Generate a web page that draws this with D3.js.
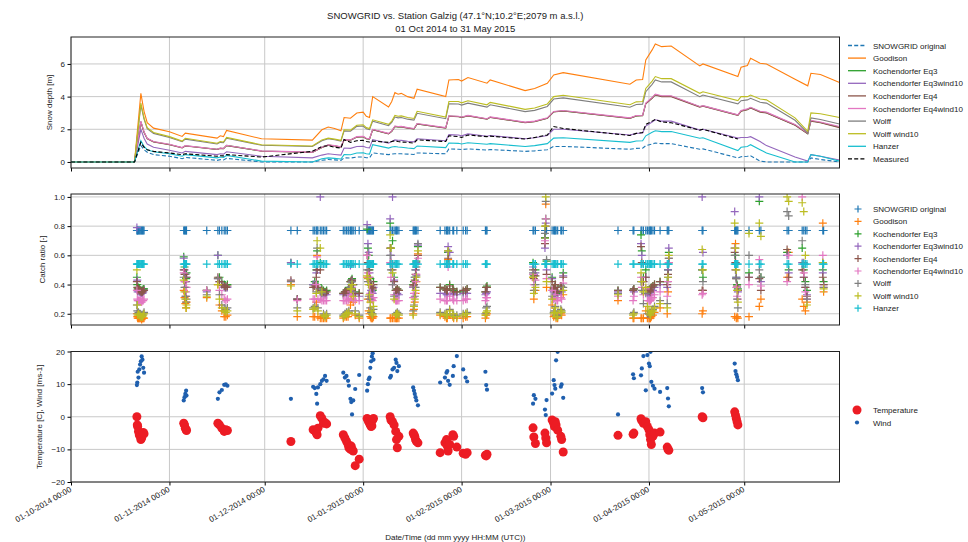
<!DOCTYPE html>
<html>
<head>
<meta charset="utf-8">
<script src="https://cdn.jsdelivr.net/npm/d3@7"></script>
<style>
  body { margin: 0; background: #fff; }
  text { font-family: "Liberation Sans", Arial, sans-serif; fill: #222; }
</style>
</head>
<body>
<svg id="chart" width="968" height="542"></svg>
<script>
// ---------- snow depth (top panel) ----------
const depthDates = ["2014-10-01","2014-10-21","2014-10-23","2014-10-24","2014-10-25","2014-10-27","2014-11-01","2014-11-05","2014-11-06","2014-11-16","2014-11-17","2014-11-18","2014-11-19","2014-11-30","2014-12-16","2014-12-19","2014-12-21","2014-12-23","2014-12-25","2014-12-26","2014-12-28","2014-12-30","2015-01-01","2015-01-02","2015-01-03","2015-01-04","2015-01-09","2015-01-10","2015-01-11","2015-01-12","2015-01-13","2015-01-15","2015-01-17","2015-01-18","2015-01-27","2015-01-28","2015-01-31","2015-02-01","2015-02-03","2015-02-09","2015-02-10","2015-02-21","2015-02-24","2015-02-28","2015-03-02","2015-03-05","2015-03-26","2015-03-28","2015-03-30","2015-03-31","2015-04-02","2015-04-03","2015-04-05","2015-04-08","2015-04-17","2015-04-18","2015-04-29","2015-04-30","2015-05-02","2015-05-03","2015-05-06","2015-05-08","2015-05-17","2015-05-21","2015-05-22","2015-05-25","2015-05-31"];

const sdSnowgrid = [0,0,1.0,0.75,0.6,0.45,0.35,0.2,0.28,0.1,0.14,0.12,0.22,0.0,0.0,0.1,0.15,0.13,0.1,0.25,0.24,0.3,0.3,0.26,0.25,0.55,0.45,0.48,0.5,0.5,0.5,0.48,0.46,0.55,0.5,0.8,0.78,0.76,0.8,0.73,0.76,0.65,0.68,0.75,0.95,0.95,0.78,0.83,0.84,1.0,1.1,1.16,1.12,1.12,0.78,0.8,0.25,0.32,0.35,0.38,0.05,0.0,0.0,0.0,0.25,0.15,0.0];
const sdGoodison = [0,0,4.2,3.1,2.4,2.07,1.85,1.56,1.76,1.46,1.6,1.55,1.93,1.42,1.34,1.97,2.14,2.05,1.91,2.72,2.68,3.0,3.05,2.79,2.72,4.0,3.36,3.7,4.25,4.15,4.2,4.0,3.9,4.45,4.0,5.02,5.05,4.95,5.17,4.82,5.02,4.37,4.5,4.82,5.33,5.47,4.76,5.02,5.05,6.24,6.86,7.22,7.06,7.1,5.88,6.0,5.23,5.8,5.9,6.35,6.04,6.0,5.07,4.66,5.43,5.35,4.86];
const sdKoch3 = [0,0,2.47,1.82,1.44,1.24,1.07,0.87,0.99,0.77,0.84,0.82,1.01,0.67,0.59,0.89,1.04,0.99,0.92,1.36,1.34,1.53,1.55,1.43,1.4,1.98,1.73,1.88,2.18,2.15,2.16,2.08,2.03,2.33,2.08,2.81,2.78,2.73,2.83,2.63,2.74,2.42,2.48,2.68,3.07,3.13,2.68,2.82,2.84,3.58,3.92,4.12,4.02,4.02,3.38,3.43,2.87,3.12,3.22,3.32,3.07,3.02,2.27,1.74,2.52,2.42,2.13];
const sdKoch3w = [0,0,2.0,1.45,1.1,0.9,0.72,0.55,0.65,0.45,0.5,0.48,0.62,0.35,0.25,0.42,0.5,0.46,0.42,0.85,0.83,0.95,0.96,0.88,0.86,1.37,1.15,1.25,1.35,1.33,1.32,1.27,1.23,1.42,1.3,1.67,1.65,1.6,1.72,1.57,1.62,1.42,1.48,1.62,2.0,2.0,1.65,1.75,1.77,2.2,2.45,2.58,2.5,2.5,1.95,2.0,1.46,1.5,1.5,1.55,1.25,1.0,0.3,0.05,0.45,0.35,0.12];
const sdKoch4 = [0,0,2.45,1.8,1.42,1.22,1.05,0.86,0.98,0.76,0.83,0.81,1.0,0.66,0.58,0.88,1.03,0.98,0.91,1.35,1.33,1.52,1.54,1.42,1.39,1.97,1.72,1.87,2.17,2.14,2.15,2.07,2.02,2.32,2.07,2.8,2.77,2.72,2.82,2.62,2.73,2.41,2.47,2.67,3.06,3.12,2.67,2.81,2.83,3.56,3.9,4.1,4.0,4.0,3.36,3.41,2.85,3.1,3.2,3.3,3.05,3.0,2.25,1.72,2.5,2.4,2.1];
const sdKoch4w = [0,0,2.5,1.85,1.45,1.25,1.08,0.88,1.0,0.78,0.85,0.83,1.02,0.68,0.6,0.9,1.05,1.0,0.93,1.37,1.35,1.55,1.57,1.45,1.42,2.0,1.75,1.9,2.2,2.17,2.18,2.1,2.05,2.35,2.1,2.83,2.8,2.75,2.85,2.65,2.76,2.44,2.5,2.7,3.09,3.15,2.7,2.84,2.86,3.6,3.95,4.15,4.05,4.05,3.4,3.45,2.89,3.15,3.25,3.35,3.1,3.05,2.3,1.77,2.55,2.45,2.17];
const sdWolff = [0,0,3.5,2.62,2.04,1.75,1.5,1.24,1.4,1.1,1.2,1.18,1.45,1.02,0.95,1.3,1.42,1.36,1.28,1.9,1.88,2.18,2.2,2.03,1.98,2.5,2.22,2.42,2.75,2.7,2.72,2.62,2.56,2.98,2.65,3.56,3.55,3.48,3.6,3.36,3.5,3.08,3.16,3.4,3.85,3.92,3.35,3.52,3.54,4.3,4.75,5.02,4.9,4.9,4.0,4.1,3.56,3.75,3.8,3.9,3.65,3.6,2.55,1.77,2.7,2.6,2.32];
const sdWolffWind = [0,0,3.6,2.7,2.1,1.8,1.55,1.28,1.45,1.15,1.25,1.22,1.5,1.05,0.98,1.35,1.46,1.4,1.32,1.97,1.95,2.25,2.28,2.1,2.05,2.58,2.3,2.5,2.85,2.8,2.82,2.72,2.66,3.1,2.75,3.7,3.7,3.62,3.75,3.5,3.65,3.22,3.3,3.55,4.0,4.08,3.5,3.68,3.7,4.5,4.95,5.23,5.1,5.1,4.2,4.3,3.76,4.0,4.0,4.1,3.85,3.8,2.7,1.87,3.0,2.95,2.72];
const sdHanzer = [0,0,1.3,0.95,0.75,0.62,0.5,0.35,0.45,0.25,0.3,0.28,0.4,0.05,0.0,0.2,0.25,0.22,0.18,0.45,0.44,0.55,0.56,0.5,0.48,1.06,0.85,0.92,0.95,0.92,0.9,0.85,0.82,0.98,0.88,1.16,1.14,1.1,1.18,1.08,1.12,0.95,1.0,1.12,1.46,1.48,1.2,1.28,1.3,1.6,1.82,1.91,1.86,1.86,1.45,1.48,0.7,0.9,0.95,1.06,0.75,0.55,0.0,0.0,0.45,0.35,0.05];
const sdMeasured = [0,0,1.2,0.9,0.75,0.65,0.55,0.45,0.5,0.35,0.38,0.37,0.45,0.3,0.65,0.95,1.0,0.9,0.85,1.37,1.2,1.3,1.32,1.25,1.22,1.28,1.2,1.25,1.3,1.25,1.22,1.2,1.15,1.35,1.25,1.6,1.55,1.5,1.65,1.55,1.58,1.4,1.5,1.65,2.17,2.05,1.62,1.75,1.8,2.3,2.5,2.6,2.45,2.4,1.95,2.0,1.4,null,null,null,null,null,null,null,null,null,null];

// ---------- precipitation events (middle + bottom panels) ----------
const eventTimes = [
  "2014-10-21 18","2014-10-21 21","2014-10-22 00","2014-10-22 06","2014-10-22 12","2014-10-22 18","2014-10-23 00","2014-10-23 06","2014-10-23 12","2014-10-23 18","2014-10-24 00",
  "2014-11-05 12","2014-11-05 18","2014-11-06 00","2014-11-06 06","2014-11-06 09",
  "2014-11-12 18","2014-11-16 06","2014-11-16 18","2014-11-17 12","2014-11-18 06","2014-11-18 18","2014-11-19 06",
  "2014-12-09 06","2014-12-11 06",
  "2014-12-16 06","2014-12-16 18","2014-12-17 06","2014-12-17 12","2014-12-17 18","2014-12-18 12","2014-12-19 00","2014-12-19 12","2014-12-20 00","2014-12-20 12",
  "2014-12-25 18","2014-12-26 06","2014-12-26 18","2014-12-27 06","2014-12-27 12","2014-12-28 00","2014-12-28 06","2014-12-28 12","2014-12-28 21","2014-12-29 12","2014-12-30 18",
  "2015-01-02 06","2015-01-02 12","2015-01-02 18","2015-01-03 00","2015-01-03 06","2015-01-03 12","2015-01-03 18","2015-01-04 00","2015-01-04 06",
  "2015-01-09 12","2015-01-09 18","2015-01-10 06","2015-01-10 18","2015-01-11 06","2015-01-11 12","2015-01-11 18","2015-01-12 06",
  "2015-01-16 18","2015-01-17 00","2015-01-17 06","2015-01-17 12","2015-01-17 18","2015-01-18 06",
  "2015-01-25 06","2015-01-26 18","2015-01-27 06","2015-01-27 12","2015-01-27 18","2015-01-28 06","2015-01-29 06","2015-01-29 12","2015-01-30 12","2015-02-01 12","2015-02-02 06","2015-02-02 18",
  "2015-02-08 12","2015-02-08 18","2015-02-09 00",
  "2015-02-23 12","2015-02-23 18","2015-02-24 06","2015-02-27 06","2015-02-27 12","2015-02-27 18","2015-03-01 12","2015-03-02 00","2015-03-02 06","2015-03-02 12","2015-03-02 18","2015-03-03 06","2015-03-04 06","2015-03-04 12","2015-03-05 00",
  "2015-03-22 06",
  "2015-03-27 00","2015-03-27 06","2015-03-29 12","2015-03-29 18","2015-03-30 06","2015-03-31 00","2015-03-31 12","2015-04-01 00","2015-04-01 06","2015-04-01 12","2015-04-01 18","2015-04-02 06","2015-04-02 18","2015-04-04 12","2015-04-06 18","2015-04-07 00","2015-04-07 06",
  "2015-04-17 18","2015-04-18 00",
  "2015-04-28 00","2015-04-28 06","2015-04-28 12","2015-04-28 18","2015-04-29 00","2015-05-02 12",
  "2015-05-05 18","2015-05-06 06",
  "2015-05-14 12","2015-05-15 00","2015-05-19 06","2015-05-19 18","2015-05-20 06","2015-05-20 18",
  "2015-05-25 18","2015-05-26 00"
];

const temperature = [
  0.0,-2.5,-3.0,-4.5,-5.5,-6.0,-7.0,-6.5,-5.5,-4.8,-5.2,
  -2.0,-2.5,-3.5,-4.0,-4.2,
  null,-2.0,-2.5,-3.5,-4.5,-4.0,-4.2,
  -7.6,null,
  -4.0,-4.3,-5.0,-5.5,-3.5,0.3,-0.5,-2.0,-1.8,-2.2,
  -5.5,-6.5,-7.5,-8.5,-9.5,-10.0,-9.0,-10.0,-10.5,-15.0,-13.0,
  -0.5,-1.0,-1.5,-2.0,-2.5,-3.0,-2.8,-1.0,-0.5,
  0.0,-1.0,-1.5,-2.5,-4.5,-7.0,-9.5,-6.0,
  -5.0,-5.5,-6.0,-7.0,-7.5,-8.0,
  -11.0,-8.0,-7.0,-9.0,-10.5,-8.5,-5.5,-6.0,-9.3,-11.2,-11.5,-11.0,
  -11.8,-12.0,-11.5,
  -3.4,-6.2,-8.2,-5.0,-6.5,-8.0,-1.0,-2.0,-3.0,-1.5,-2.5,-4.1,-6.0,-7.0,-10.8,
  -5.7,
  -5.4,-5.0,-0.6,-1.2,-2.0,-1.5,-3.0,-4.0,-5.5,-7.0,-8.5,-6.0,-5.0,-4.7,-9.3,-10.0,-10.3,
  0.0,-0.3,
  1.5,0.5,-0.5,-1.5,-2.5,null,
  null,null,
  null,null,null,null,null,null,
  null,null
];

const wind = [
  9.7,10.5,13.8,12.0,14.5,16.0,17.0,18.5,17.5,15.0,13.5,
  5.0,6.0,7.0,8.0,6.5,
  null,5.5,7.5,8.2,9.8,9.9,9.5,
  5.5,null,
  9.2,8.8,7.0,4.0,9.0,10.0,11.0,11.5,12.5,11.0,
  13.5,12.0,12.5,11.0,9.5,5.5,4.5,0.7,5.0,8.5,12.8,
  8.0,10.0,11.5,12.0,15.0,17.0,18.5,19.5,17.5,
  12.0,12.5,14.5,15.0,17.5,16.5,14.0,15.5,
  9.0,8.0,7.0,6.0,5.0,3.5,
  10.5,12.0,13.5,14.0,11.0,9.8,12.5,15.5,18.6,14.5,12.0,10.8,
  13.8,9.7,8.3,
  4.0,6.6,5.5,2.2,0.5,5.1,7.1,11.2,9.7,8.6,17.3,19.9,9.2,9.9,5.8,
  0.7,
  13.0,11.8,12.7,14.8,18.6,8.1,18.9,16.3,15.5,19.9,10.7,9.5,8.6,7.6,8.8,5.6,3.2,
  8.8,7.5,
  16.3,14.0,13.0,12.2,11.2,null,
  null,null,
  null,null,null,null,null,null,
  null,null
];

const crSnowgrid = [
  0.77,0.77,0.77,0.77,0.77,0.77,0.77,0.77,0.77,0.77,0.77,
  0.77,0.77,0.77,0.77,0.77,
  0.77,0.77,0.77,0.77,0.77,0.77,0.77,
  0.77,0.77,
  0.77,0.77,0.77,0.77,0.77,0.77,0.77,0.77,0.77,0.77,
  0.77,0.77,0.77,0.77,0.77,0.77,0.77,0.77,0.77,0.77,0.77,
  0.77,0.77,0.77,0.77,0.77,0.77,0.77,0.77,0.77,
  0.77,0.77,0.77,0.77,0.77,0.77,0.77,0.77,
  0.77,0.77,0.77,0.77,0.77,0.77,
  0.77,0.77,0.77,0.77,0.77,0.77,0.77,0.77,0.77,0.77,0.77,0.77,
  0.77,0.77,0.77,
  0.77,0.77,0.77,0.77,0.77,0.77,0.77,0.77,0.77,0.77,0.77,0.77,0.77,0.77,0.77,
  0.77,
  0.77,0.77,0.77,0.77,0.77,0.77,0.77,0.77,0.77,0.77,0.77,0.77,0.77,0.77,0.77,0.77,0.77,
  0.77,0.77,
  0.77,0.77,0.77,0.77,0.77,0.77,
  0.77,0.77,
  0.77,0.77,0.77,0.77,0.77,0.77,
  0.77,0.77
];
const crGoodison = [
  0.20,0.18,0.17,0.17,0.17,0.17,0.17,0.16,0.17,0.17,0.17,
  0.36,0.31,0.27,0.24,0.28,
  0.31,0.40,0.26,0.22,0.18,0.18,0.19,
  0.40,0.18,
  0.18,0.18,0.28,0.60,0.18,0.17,0.17,0.17,0.17,0.17,
  0.17,0.18,0.18,0.18,0.20,0.26,0.30,0.36,0.28,0.19,0.17,
  0.45,0.30,0.22,0.20,0.18,0.17,0.17,0.17,0.18,
  0.17,0.17,0.17,0.17,0.17,0.17,0.17,0.17,
  0.20,0.23,0.28,0.34,0.42,0.61,
  0.19,0.18,0.17,0.17,0.57,0.20,0.18,0.17,0.17,0.17,0.18,0.18,
  0.17,0.19,0.20,
  0.45,0.30,0.36,0.72,0.95,0.38,0.26,0.18,0.19,0.21,0.17,0.17,0.20,0.19,0.33,
  0.29,
  0.17,0.17,0.17,0.17,0.17,0.22,0.17,0.17,0.17,0.17,0.18,0.19,0.21,0.24,0.20,0.35,0.55,
  0.20,0.22,
  0.18,0.68,0.17,0.18,0.17,0.18,
  0.25,0.30,
  0.45,0.62,0.30,0.25,0.22,0.28,
  0.82,0.35
];
const crKoch3 = [
  0.45,0.40,0.37,0.38,0.37,0.36,0.36,0.35,0.36,0.37,0.37,
  0.59,0.52,0.47,0.44,0.48,
  0.36,0.60,0.45,0.42,0.40,0.39,0.40,
  0.55,0.30,
  0.40,0.42,0.50,0.63,0.40,0.55,0.37,0.36,0.35,0.36,
  0.34,0.35,0.35,0.36,0.38,0.42,0.43,0.44,0.40,0.35,0.34,
  0.78,0.65,0.60,0.50,0.44,0.40,0.38,0.36,0.42,
  0.82,0.65,0.70,0.45,0.36,0.36,0.37,0.36,
  0.40,0.42,0.45,0.50,0.56,0.66,
  0.38,0.37,0.36,0.36,0.62,0.40,0.37,0.36,0.35,0.35,0.36,0.37,
  0.35,0.38,0.39,
  0.55,0.46,0.50,0.72,0.85,0.56,0.45,0.37,0.38,0.40,0.35,0.34,0.39,0.38,0.48,
  0.36,
  0.36,0.37,0.74,0.63,0.45,0.50,0.36,0.36,0.36,0.35,0.38,0.39,0.40,0.42,0.42,0.50,0.62,
  0.50,0.45,
  0.65,0.60,0.45,0.40,0.37,0.48,
  0.97,0.45,
  0.62,0.50,0.65,0.50,0.42,0.36,
  0.50,0.42
];
const crKoch3w = [
  0.79,0.43,0.35,0.36,0.35,0.35,0.34,0.34,0.34,0.35,0.36,
  0.58,0.50,0.47,0.42,0.45,
  0.35,0.60,0.42,0.40,0.38,0.38,0.38,
  0.55,0.30,
  0.40,0.40,0.48,0.50,0.38,1.00,0.34,0.33,0.33,0.33,
  0.33,0.34,0.34,0.33,0.35,0.53,0.42,0.43,0.34,0.33,0.32,
  0.81,0.68,0.62,0.48,0.40,0.36,0.35,0.34,0.38,
  0.85,0.60,1.00,0.43,0.33,0.33,0.34,0.33,
  0.38,0.40,0.45,0.50,0.55,0.67,
  0.34,0.34,0.33,0.33,0.66,0.62,0.34,0.33,0.33,0.34,0.34,0.34,
  0.33,0.34,0.35,
  0.52,0.47,0.48,0.65,0.82,0.50,0.44,0.35,0.36,0.38,0.33,0.33,0.36,0.35,0.46,
  0.35,
  0.36,0.35,0.68,0.60,0.42,0.45,0.34,0.33,0.33,0.33,0.35,0.36,0.38,0.40,0.38,0.50,0.65,
  1.00,0.62,
  0.90,0.55,0.45,0.38,0.35,0.45,
  1.00,0.42,
  0.60,0.48,0.55,0.45,0.38,0.33,
  0.48,0.40
];
const crKoch4 = [
  0.42,0.38,0.36,0.37,0.36,0.36,0.35,0.35,0.35,0.36,0.36,
  0.50,0.47,0.42,0.32,0.45,
  0.36,0.45,0.42,0.40,0.39,0.38,0.39,
  0.43,0.30,
  0.38,0.39,0.45,0.50,0.38,0.50,0.36,0.35,0.34,0.35,
  0.34,0.35,0.35,0.36,0.37,0.42,0.42,0.43,0.40,0.34,0.34,
  0.60,0.55,0.50,0.45,0.42,0.40,0.38,0.37,0.40,
  0.65,0.55,0.50,0.42,0.36,0.36,0.37,0.36,
  0.39,0.40,0.43,0.47,0.52,0.60,
  0.38,0.37,0.36,0.36,0.58,0.39,0.37,0.35,0.35,0.36,0.36,0.37,
  0.35,0.38,0.38,
  0.50,0.44,0.46,0.68,0.80,0.47,0.42,0.37,0.38,0.40,0.35,0.35,0.39,0.38,0.45,
  0.36,
  0.36,0.37,0.66,0.55,0.42,0.45,0.36,0.36,0.36,0.35,0.38,0.39,0.40,0.42,0.40,0.47,0.58,
  0.36,0.36,
  0.62,0.55,0.44,0.39,0.36,0.45,
  0.44,0.36,
  0.64,0.45,0.50,0.45,0.38,0.32,
  0.45,0.40
];
const crKoch4w = [
  0.36,0.30,0.29,0.29,0.29,0.29,0.29,0.28,0.29,0.29,0.30,
  0.48,0.42,0.38,0.35,0.38,
  0.36,0.44,0.36,0.33,0.30,0.29,0.30,
  0.42,0.29,
  0.30,0.30,0.40,0.59,0.30,0.30,0.29,0.29,0.29,0.29,
  0.29,0.29,0.29,0.29,0.30,0.33,0.35,0.38,0.30,0.29,0.29,
  0.60,0.48,0.45,0.40,0.34,0.30,0.30,0.29,0.31,
  0.55,0.45,0.40,0.33,0.29,0.29,0.29,0.29,
  0.31,0.34,0.38,0.42,0.47,0.58,
  0.30,0.29,0.29,0.29,0.52,0.32,0.30,0.29,0.29,0.29,0.30,0.30,
  0.29,0.31,0.31,
  0.47,0.40,0.43,0.70,0.85,0.44,0.36,0.30,0.31,0.33,0.29,0.29,0.31,0.30,0.41,
  0.32,
  0.29,0.32,0.45,0.38,0.33,0.37,0.29,0.29,0.29,0.29,0.30,0.31,0.33,0.35,0.32,0.42,0.55,
  0.33,0.34,
  0.65,0.50,0.38,0.32,0.30,0.40,
  0.57,0.39,
  0.42,0.60,1.00,0.48,0.35,0.30,
  0.60,0.38
];
const crWolff = [
  0.26,0.22,0.20,0.21,0.20,0.20,0.19,0.19,0.19,0.20,0.21,
  0.45,0.38,0.32,0.28,0.30,
  0.33,0.44,0.33,0.26,0.24,0.23,0.24,
  0.42,0.24,
  0.24,0.25,0.35,0.65,0.24,0.35,0.34,0.20,0.19,0.20,
  0.19,0.20,0.21,0.21,0.22,0.38,0.40,0.42,0.35,0.22,0.19,
  0.50,0.42,0.32,0.30,0.24,0.21,0.20,0.20,0.23,
  0.60,0.50,0.40,0.32,0.20,0.20,0.21,0.20,
  0.22,0.26,0.32,0.38,0.46,0.68,
  0.21,0.20,0.20,0.19,0.63,0.23,0.20,0.19,0.19,0.20,0.20,0.21,
  0.20,0.24,0.25,
  0.48,0.36,0.40,0.75,0.97,0.57,0.32,0.21,0.22,0.25,0.19,0.19,0.23,0.22,0.38,
  0.34,
  0.20,0.21,0.42,0.36,0.27,0.34,0.20,0.20,0.20,0.19,0.22,0.23,0.25,0.29,0.27,0.45,0.58,
  0.50,0.42,
  0.60,0.50,0.44,0.30,0.24,0.60,
  0.50,0.45,
  0.90,0.87,0.70,0.55,0.40,0.30,
  0.55,0.38
];
const crWolffWind = [
  0.50,0.26,0.19,0.20,0.19,0.19,0.18,0.18,0.18,0.19,0.20,
  0.43,0.35,0.30,0.24,0.26,
  0.32,0.40,0.30,0.24,0.22,0.21,0.22,
  0.39,0.22,
  0.23,0.24,0.34,0.70,0.22,0.65,0.35,0.19,0.18,0.19,
  0.18,0.19,0.20,0.20,0.21,0.37,0.37,0.40,0.32,0.20,0.18,
  0.46,0.44,0.40,0.33,0.28,0.22,0.20,0.19,0.25,
  0.74,0.65,0.48,0.30,0.19,0.20,0.20,0.19,
  0.19,0.25,0.30,0.36,0.45,0.63,
  0.20,0.19,0.19,0.19,0.63,0.22,0.20,0.18,0.18,0.19,0.20,0.20,
  0.19,0.21,0.22,
  0.45,0.34,0.38,0.80,1.00,0.42,0.30,0.20,0.21,0.24,0.18,0.18,0.22,0.21,0.36,
  0.33,
  0.19,0.20,0.48,0.42,0.35,0.38,0.25,0.22,0.20,0.19,0.21,0.22,0.24,0.27,0.24,0.45,0.60,
  0.64,0.50,
  0.82,0.65,0.50,0.36,0.28,0.75,
  0.82,0.73,
  1.00,0.97,0.96,0.90,0.60,0.26,
  0.55,0.37
];
const crHanzer = [
  0.54,0.54,0.54,0.54,0.54,0.54,0.54,0.54,0.54,0.54,0.54,
  0.54,0.54,0.54,0.54,0.54,
  0.54,0.54,0.54,0.54,0.54,0.54,0.54,
  0.54,0.54,
  0.54,0.54,0.54,0.54,0.54,0.54,0.54,0.54,0.54,0.54,
  0.54,0.54,0.54,0.54,0.54,0.54,0.54,0.54,0.54,0.54,0.54,
  0.54,0.54,0.54,0.54,0.54,0.54,0.54,0.54,0.54,
  0.54,0.54,0.54,0.54,0.54,0.54,0.54,0.54,
  0.54,0.54,0.54,0.54,0.54,0.54,
  0.54,0.54,0.54,0.54,0.54,0.54,0.54,0.54,0.54,0.54,0.54,0.54,
  0.54,0.54,0.54,
  0.54,0.54,0.54,0.54,0.54,0.54,0.54,0.54,0.54,0.54,0.54,0.54,0.54,0.54,0.54,
  0.54,
  0.54,0.54,0.54,0.54,0.54,0.54,0.54,0.54,0.54,0.54,0.54,0.54,0.54,0.54,0.54,0.54,0.54,
  0.54,0.54,
  0.54,0.54,0.54,0.54,0.54,0.54,
  0.54,0.54,
  0.54,0.54,0.54,0.54,0.54,0.54,
  0.54,0.54
];

const seriesNames = ["SNOWGRID original","Goodison","Kochendorfer Eq3","Kochendorfer Eq3wind10","Kochendorfer Eq4","Kochendorfer Eq4wind10","Wolff","Wolff wind10","Hanzer","Measured"];
const seriesColors = ["#1f77b4","#ff7f0e","#2ca02c","#9467bd","#8c564b","#e377c2","#7f7f7f","#bcbd22","#17becf","#000000"];
const depthValues = [sdSnowgrid,sdGoodison,sdKoch3,sdKoch3w,sdKoch4,sdKoch4w,sdWolff,sdWolffWind,sdHanzer,sdMeasured];
const ratioValues = [crSnowgrid,crGoodison,crKoch3,crKoch3w,crKoch4,crKoch4w,crWolff,crWolffWind,crHanzer];

const depthTicks = [0,2,4,6];
const ratioTicks = [0.2,0.4,0.6,0.8,1.0];
const metTicks = [-20,-10,0,10,20];

// ---------- layout ----------
const svg = d3.select("#chart");
const parseDay = d3.utcParse("%Y-%m-%d");
const parseHour = d3.utcParse("%Y-%m-%d %H");
const fmtTick = d3.utcFormat("%d-%m-%Y %H:%M");

const left = 71, right = 839.5;
const x = d3.scaleUtc().domain([parseDay("2014-10-01"), parseDay("2015-05-31")]).range([left, right]);
const monthTicks = d3.utcMonth.range(parseDay("2014-10-01"), parseDay("2015-05-02"));

const ySnow = d3.scaleLinear().domain([-0.37, 7.65]).range([168, 37]);
const yRatio = d3.scaleLinear().domain([0.123, 1.02]).range([325, 194]);
const yMet = d3.scaleLinear().domain([-20, 20]).range([482, 351.5]);

function panel(id, y, ticks, fmt, label, labelX) {
  const [bot, top] = y.range();
  const g = svg.append("g");
  svg.append("clipPath").attr("id", id).append("rect")
    .attr("x", left).attr("y", top).attr("width", right - left).attr("height", bot - top);
  g.selectAll(".gx").data(monthTicks).join("line")
    .attr("x1", d => x(d)).attr("x2", d => x(d)).attr("y1", top).attr("y2", bot)
    .attr("stroke", "#c8c8c8").attr("stroke-width", 1);
  g.selectAll(".gy").data(ticks).join("line")
    .attr("x1", left).attr("x2", right).attr("y1", d => y(d)).attr("y2", d => y(d))
    .attr("stroke", "#c8c8c8").attr("stroke-width", 1);
  const ya = g.append("g").attr("transform", `translate(${left},0)`)
    .call(d3.axisLeft(y).tickValues(ticks).tickFormat(fmt).tickSize(3.5).tickPadding(2.5));
  ya.select(".domain").remove();
  ya.selectAll("text").attr("font-size", 8).attr("fill", "#222");
  const xa = g.append("g").attr("transform", `translate(0,${bot})`)
    .call(d3.axisBottom(x).tickValues(monthTicks).tickFormat("").tickSize(3.5));
  xa.select(".domain").remove();
  g.append("text").attr("transform", `translate(${labelX},${(top + bot) / 2}) rotate(-90)`)
    .attr("text-anchor", "middle").attr("font-size", 8).text(label);
  const plot = svg.append("g").attr("clip-path", `url(#${id})`);
  svg.append("rect").attr("x", left).attr("y", top).attr("width", right - left).attr("height", bot - top)
    .attr("fill", "none").attr("stroke", "#222").attr("stroke-width", 1);
  return { g, plot, top, bot };
}

// title
svg.append("text").attr("x", (left + right) / 2).attr("y", 18.5).attr("text-anchor", "middle")
  .attr("font-size", 9.5).text("SNOWGRID vs. Station Galzig (47.1°N;10.2°E;2079 m a.s.l.)");
svg.append("text").attr("x", (left + right) / 2).attr("y", 31.5).attr("text-anchor", "middle")
  .attr("font-size", 9.5).text("01 Oct 2014 to 31 May 2015");

// ---------- top: snow depth ----------
const p1 = panel("clipSnow", ySnow, depthTicks, d3.format("d"), "Snow depth [m]", 52);
const depthX = depthDates.map(parseDay);
const line = d3.line().defined(d => d[1] != null).x(d => x(d[0])).y(d => ySnow(d[1]));
depthValues.forEach((vals, i) => {
  const dashed = i === 0 || i === 9;
  p1.plot.append("path")
    .datum(vals.map((v, j) => [depthX[j], v]))
    .attr("d", line).attr("fill", "none")
    .attr("stroke", seriesColors[i]).attr("stroke-width", 1.1)
    .attr("stroke-dasharray", dashed ? "4,2.2" : null);
});
const lg1 = svg.append("g");
seriesNames.forEach((n, i) => {
  const yy = 45.5 + i * 12.6;
  lg1.append("line").attr("x1", 848).attr("x2", 866).attr("y1", yy).attr("y2", yy)
    .attr("stroke", seriesColors[i]).attr("stroke-width", 1.3)
    .attr("stroke-dasharray", (i === 0 || i === 9) ? "4,2.2" : null);
  lg1.append("text").attr("x", 873).attr("y", yy + 3).attr("font-size", 8).text(n);
});

// ---------- middle: catch ratio ----------
const p2 = panel("clipRatio", yRatio, ratioTicks, d3.format(".1f"), "Catch ratio [-]", 45);
const evX = eventTimes.map(parseHour);
const plus = "M-4,0H4M0,-4V4";
ratioValues.forEach((vals, i) => {
  p2.plot.append("g").selectAll("path")
    .data(vals.map((v, j) => [evX[j], v]).filter(d => d[1] != null))
    .join("path")
    .attr("transform", d => `translate(${x(d[0])},${yRatio(d[1])})`)
    .attr("d", plus).attr("stroke", seriesColors[i]).attr("stroke-width", 1.2).attr("fill", "none");
});
const lg2 = svg.append("g");
seriesNames.slice(0, 9).forEach((n, i) => {
  const yy = 209 + i * 12.4;
  lg2.append("path").attr("transform", `translate(858,${yy})`).attr("d", "M-3.5,0H3.5M0,-3.5V3.5")
    .attr("stroke", seriesColors[i]).attr("stroke-width", 1.2);
  lg2.append("text").attr("x", 873).attr("y", yy + 3).attr("font-size", 8).text(n);
});

// ---------- bottom: temperature & wind ----------
const p3 = panel("clipMet", yMet, metTicks, d3.format("d"), "Temperature [C], Wind [ms-1]", 42);
const tempColor = "#ec1c24", windColor = "#1f5fae";
p3.plot.append("g").selectAll("circle")
  .data(temperature.map((v, j) => [evX[j], v]).filter(d => d[1] != null))
  .join("circle").attr("cx", d => x(d[0])).attr("cy", d => yMet(d[1])).attr("r", 4.5)
  .attr("fill", tempColor);
p3.plot.append("g").selectAll("circle")
  .data(wind.map((v, j) => [evX[j], v]).filter(d => d[1] != null))
  .join("circle").attr("cx", d => x(d[0])).attr("cy", d => yMet(d[1])).attr("r", 2.1)
  .attr("fill", windColor);
const lg3 = svg.append("g");
lg3.append("circle").attr("cx", 857).attr("cy", 410).attr("r", 4.5).attr("fill", tempColor);
lg3.append("text").attr("x", 873).attr("y", 413).attr("font-size", 8).text("Temperature");
lg3.append("circle").attr("cx", 857).attr("cy", 422.5).attr("r", 2.1).attr("fill", windColor);
lg3.append("text").attr("x", 873).attr("y", 425.5).attr("font-size", 8).text("Wind");

// x tick labels (bottom panel only)
svg.append("g").selectAll("text").data(monthTicks).join("text")
  .attr("transform", d => `translate(${x(d) + 1},${491}) rotate(-30)`)
  .attr("text-anchor", "end").attr("font-size", 8).text(d => fmtTick(d));
svg.append("text").attr("x", (left + right) / 2).attr("y", 540).attr("text-anchor", "middle")
  .attr("font-size", 8).text("Date/Time (dd mm yyyy HH:MM (UTC))");
</script>
</body>
</html>
